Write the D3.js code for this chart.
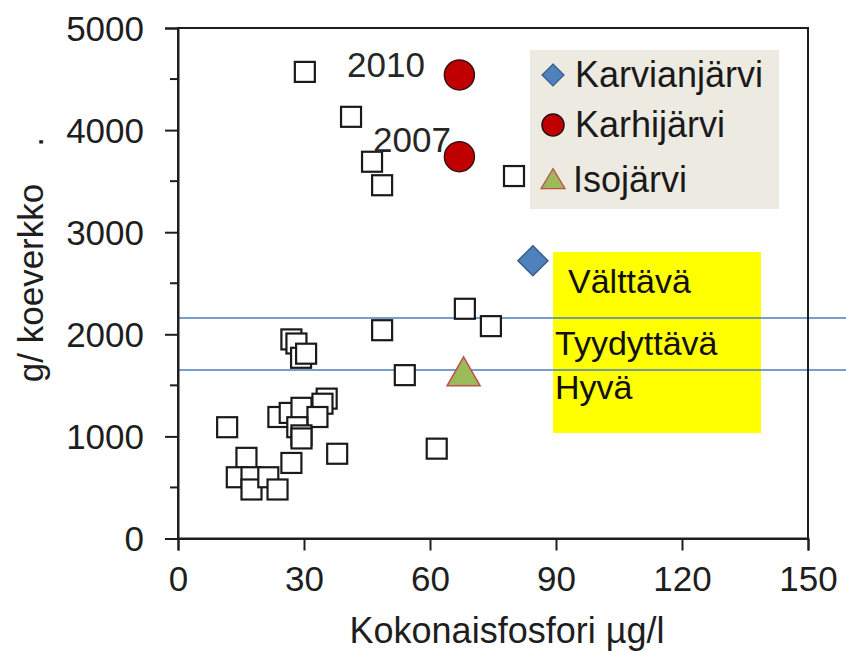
<!DOCTYPE html>
<html><head><meta charset="utf-8">
<script src="https://cdn.jsdelivr.net/npm/d3@7/dist/d3.min.js"></script>
<style>body{margin:0;background:#fff;}svg{display:block;font-family:"Liberation Sans",Arial,sans-serif;}</style>
</head><body>
<script>
// ---- data ----
const otherX = [30.2,41.2,46.2,48.6,80.0,68.3,74.5,48.6,54.0,61.6,37.9,27.0,28.2,29.3,30.5,11.7,23.9,26.6,29.4,35.4,34.4,33.2,28.4,29.4,29.4,27.0,16.3,14.0,17.5,17.5,21.5,23.7];
const otherY = [4570,4130,3690,3460,3550,2250,2080,2040,1600,880,830,1950,1910,1770,1810,1090,1190,1230,1280,1370,1320,1190,1090,1010,980,740,790,600,600,480,600,480];
const karhiX = [67,67];
const karhiY = [4540,3740];
const karhiYears = ["2010","2007"];
const karvianX = [84.5];
const karvianY = [2720];
const isoX = [68];
const isoY = [1590];
const classLimits = [2160,1650];
const classLabels = ["Välttävä","Tyydyttävä","Hyvä"];
const legendNames = ["Karvianjärvi","Karhijärvi","Isojärvi"];
const xTicks = [0,30,60,90,120,150];
const yTicks = [0,1000,2000,3000,4000,5000];
const yMinor = [500,1500,2500,3500,4500];
const xTitle = "Kokonaisfosfori µg/l";
const yTitle = "g/ koeverkko";

const W=846,H=651;
const svg=d3.select("body").append("svg").attr("width",W).attr("height",H);
const x=d3.scaleLinear().domain([0,150]).range([178,808]);
const y=d3.scaleLinear().domain([0,5000]).range([538.5,28]);
const ink="#1e1e1e";

// yellow class box
svg.append("rect").attr("x",x(89.3)).attr("y",y(2806)).attr("width",x(138.8)-x(89.3)).attr("height",y(1033)-y(2806)).attr("fill","#ffff00");
const clsPos=[[568,293],[555,355],[555,399]];
classLabels.forEach((t,i)=>svg.append("text").attr("x",clsPos[i][0]).attr("y",clsPos[i][1]).attr("font-size",34).attr("fill","#111").text(t));

// class limit lines
classLimits.forEach(v=>svg.append("line").attr("x1",x(0)).attr("x2",W).attr("y1",y(v)).attr("y2",y(v)).attr("stroke","#4a7ebb").attr("stroke-width",1.6));

// frame
svg.append("rect").attr("x",x(0)).attr("y",y(5000)).attr("width",x(150)-x(0)).attr("height",y(0)-y(5000)).attr("fill","none").attr("stroke",ink).attr("stroke-width",2);

// axes
const gx=svg.append("g").attr("transform",`translate(0,${y(0)})`).call(d3.axisBottom(x).tickValues(xTicks).tickFormat(d3.format("d")).tickSize(12).tickPadding(16));
const gy=svg.append("g").attr("transform",`translate(${x(0)},0)`).call(d3.axisLeft(y).tickValues(yTicks).tickFormat(d3.format("d")).tickSize(13).tickPadding(21));
[gx,gy].forEach(g=>{g.select(".domain").attr("stroke",ink).attr("stroke-width",2);g.selectAll(".tick line").attr("stroke",ink).attr("stroke-width",2);g.selectAll(".tick text").attr("font-size",35).attr("fill",ink).attr("font-family","Liberation Sans, Arial, sans-serif");});
gy.selectAll(".tick text").attr("dy","0.35em");
gx.selectAll(".tick text").attr("dy","0.71em");
svg.append("g").selectAll("line").data(yMinor).join("line").attr("x1",x(0)-8).attr("x2",x(0)).attr("y1",d=>y(d)).attr("y2",d=>y(d)).attr("stroke",ink).attr("stroke-width",2);

// titles
svg.append("text").attr("x",(x(0)+x(150))/2+14).attr("y",643).attr("text-anchor","middle").attr("font-size",36).attr("fill",ink).text(xTitle);
svg.append("text").attr("transform","translate(43,283) rotate(-90)").attr("text-anchor","middle").attr("font-size",35).attr("fill",ink).text(yTitle);
svg.append("text").attr("transform","translate(43,142) rotate(-90)").attr("text-anchor","middle").attr("font-size",35).attr("fill",ink).text(".");

// other lakes (squares)
const sq=20;
svg.append("g").selectAll("rect").data(otherX.map((d,i)=>[d,otherY[i]])).join("rect")
  .attr("x",d=>x(d[0])-sq/2).attr("y",d=>y(d[1])-sq/2).attr("width",sq).attr("height",sq)
  .attr("fill","#fff").attr("stroke","#1a1a1a").attr("stroke-width",2.2);

// Isojärvi triangle
const tri=(cx,cy,w,h)=>`M${cx},${cy-h*2/3}L${cx+w/2},${cy+h/3}L${cx-w/2},${cy+h/3}Z`;
isoX.forEach((d,i)=>svg.append("path").attr("d",tri(x(d),y(isoY[i]),33,29)).attr("fill","#9bbb59").attr("stroke","#c0504d").attr("stroke-width",1.5));
// Karvianjärvi diamond
const dia=(cx,cy,r)=>`M${cx},${cy-r}L${cx+r},${cy}L${cx},${cy+r}L${cx-r},${cy}Z`;
karvianX.forEach((d,i)=>svg.append("path").attr("d",dia(x(d),y(karvianY[i]),15)).attr("fill","#4f81bd").attr("stroke","#385d8a").attr("stroke-width",1.5));
// Karhijärvi circles
svg.append("g").selectAll("circle").data(karhiX.map((d,i)=>[d,karhiY[i]])).join("circle")
  .attr("cx",d=>x(d[0])).attr("cy",d=>y(d[1])).attr("r",15).attr("fill","#c00000").attr("stroke","#3a1010").attr("stroke-width",1.5);
// year labels
const yrPos=[[347,77],[373,152]];
karhiYears.forEach((t,i)=>svg.append("text").attr("x",yrPos[i][0]).attr("y",yrPos[i][1]).attr("font-size",35).attr("fill","#262626").text(t));

// legend
svg.append("rect").attr("x",530).attr("y",50).attr("width",249).attr("height",159).attr("fill","#edeae1");
const ly=[75,125,180];
svg.append("path").attr("d",dia(553,ly[0],11)).attr("fill","#4f81bd").attr("stroke","#385d8a").attr("stroke-width",1.2);
svg.append("circle").attr("cx",553).attr("cy",ly[1]).attr("r",11).attr("fill","#c00000").attr("stroke","#2a1010").attr("stroke-width",1.5);
svg.append("path").attr("d",tri(553,ly[2]+2,24,20)).attr("fill","#9bbb59").attr("stroke","#c0504d").attr("stroke-width",1.3);
legendNames.forEach((t,i)=>svg.append("text").attr("x",i===2?573:575).attr("y",[87,137,192][i]).attr("font-size",36).attr("fill","#1a1a1a").text(t));
</script>
</body></html>
